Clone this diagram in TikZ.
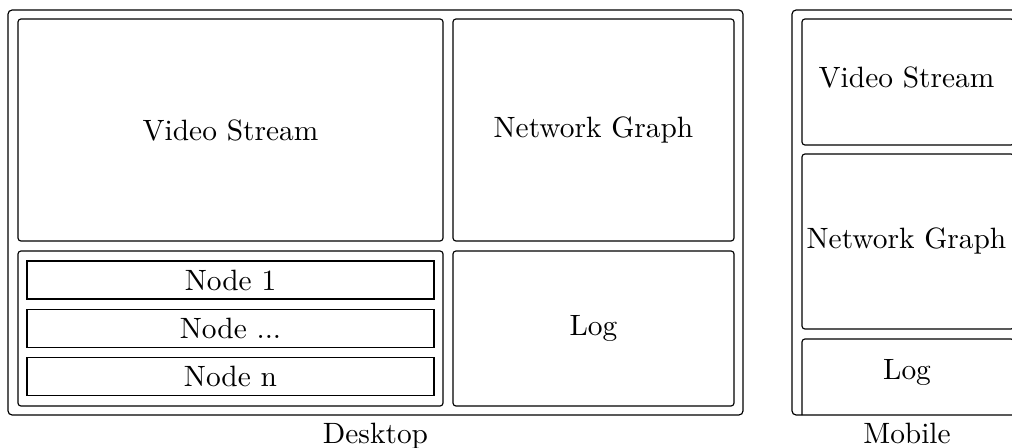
\documentclass[tikz,border=0pt]{standalone}
\usepackage{tikz}
\usetikzlibrary{positioning}

\begin{document}
\begin{tikzpicture}[
    x=0.3402pt, y=-0.3402pt,
    every node/.style={font=\normalsize},
    frame/.style={draw,rounded corners=1.4pt,inner sep=0pt},
    panel/.style={draw,rounded corners=1pt,inner sep=0pt},
    itembox/.style={draw,inner sep=0pt},
    sz/.style 2 args={minimum width=#1*0.3402pt,minimum height=#2*0.3402pt},
  ]
  \clip (0,0) rectangle (1012,447);

  % desktop layout
  \node[frame,sz={735}{405}] (desk) at (375.5,212.5) {};
  \node[panel,sz={425}{222}] (dvideo) at (230.5,130) {Video Stream};
  \node[panel,sz={281}{222}] (dgraph) at (593.5,130) {Network Graph};
  \node[panel,sz={425}{155}] (dnodes) at (230.5,328.5) {};
  \node[panel,sz={281}{155}] (dlog) at (593.5,328.5) {Log};
  \foreach \i/\lab/\yy in {1/{Node 1}/280,2/{Node {...}}/328.5,3/{Node n}/376.5} {
    \node[itembox,sz={407}{38}] (n\i) at (230.5,\yy) {\lab};
  }
  \node[below=-1pt of desk] (desklab) {Desktop};

  % mobile layout (runs off the screen)
  \begin{scope}
    \clip[rounded corners=1.4pt] (792,10) rectangle (1022,415);
    \node[panel,sz={212}{126}] (mvideo) at (908,82) {};
    \node[panel,sz={212}{175}] (mgraph) at (908,241.5) {};
    \node[panel,sz={212}{100}] (mlog) at (908,389) {};
  \end{scope}
  \node[frame,sz={230}{405}] (mob) at (907,212.5) {};
  \node (mvidtxt) at (906.5,77) {Video Stream};
  \node (mgraphtxt) at (906.5,240.5) {Network Graph};
  \node (mlogtxt) at (907,372) {Log};
  \node[below=-1pt of mob] (moblab) {Mobile};
\end{tikzpicture}
\end{document}
